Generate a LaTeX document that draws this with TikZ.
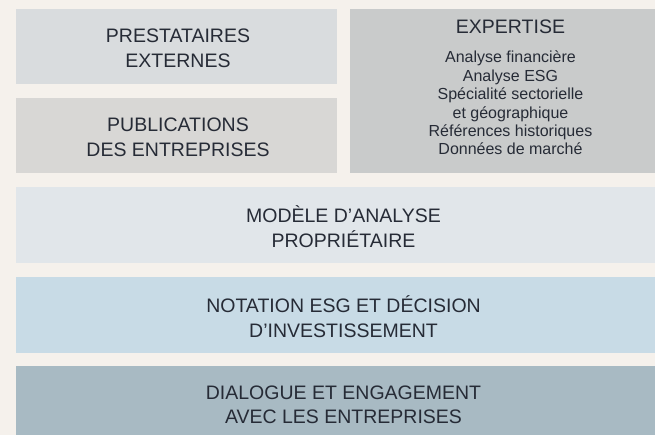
\documentclass[tikz,border=0pt]{standalone}
\usepackage{fontspec}
\setmainfont{Liberation Sans}
\definecolor{bgc}{HTML}{F5F1EC}
\definecolor{cA}{HTML}{D9DCDE}
\definecolor{cB}{HTML}{D8D7D5}
\definecolor{cX}{HTML}{C9CBCB}
\definecolor{cM}{HTML}{E1E6EA}
\definecolor{cN}{HTML}{C8DBE6}
\definecolor{cD}{HTML}{A8BAC3}
\definecolor{txtc}{HTML}{262B36}
\tikzset{
  panel/.style={inner sep=0pt, outer sep=0pt, draw=none},
  title/.style={align=center, inner sep=0pt, text=txtc, font=\fontsize{19.5}{24.5}\selectfont},
  items/.style={align=center, inner sep=0pt, text=txtc, font=\fontsize{16}{18.4}\selectfont},
}
\begin{document}
\begin{tikzpicture}[x=1pt, y=-1pt]
\useasboundingbox (0,0) rectangle (655,435);
\fill[bgc] (0,0) rectangle (655,435);
\begin{scope}
\clip (0,0) rectangle (655,435);
\fill[cA] (16,9) rectangle (337,84);
\fill[cB] (16,98) rectangle (337,173);
\fill[cX] (350,9) rectangle (671,173);
\fill[cM] (16,187) rectangle (671,263);
\fill[cN] (16,277) rectangle (671,353);
\fill[cD] (16,366) rectangle (671,440);
\end{scope}
\node[title] (prest) at (178,48.3) {PRESTATAIRES\\EXTERNES};
\node[title] (publ) at (178,137.3) {PUBLICATIONS\\DES ENTREPRISES};
\node[title, anchor=base] (expt) at (510.5,34) {EXPERTISE};
\node[items] (expl) at (510.5,103) {Analyse financière\\Analyse ESG\\Spécialité sectorielle\\et géographique\\Références historiques\\Données de marché};
\node[title] (model) at (343.5,226.5) {MODÈLE D’ANALYSE\\PROPRIÉTAIRE};
\node[title] (notat) at (343.5,316.5) {NOTATION ESG ET DÉCISION\\D’INVESTISSEMENT};
\node[title] (dial) at (343.5,405) {DIALOGUE ET ENGAGEMENT\\AVEC LES ENTREPRISES};
\end{tikzpicture}
\end{document}
